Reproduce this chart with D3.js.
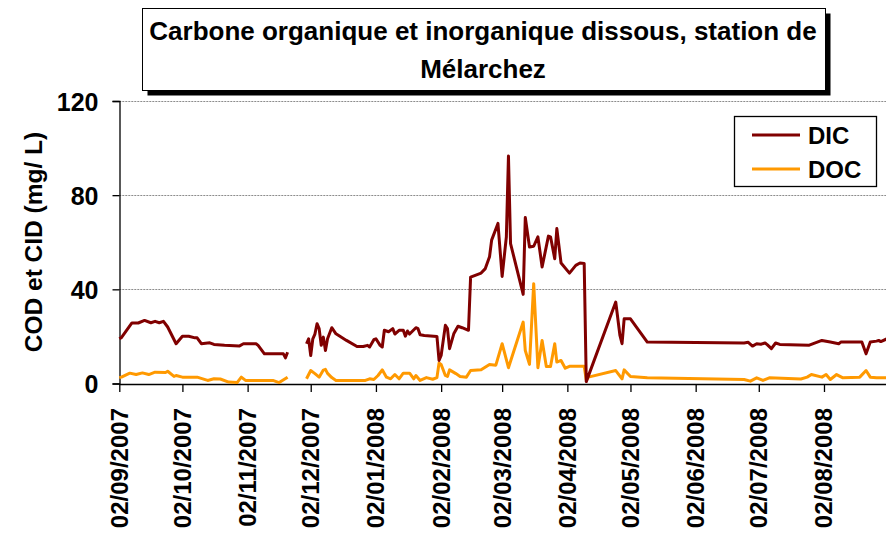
<!DOCTYPE html>
<html>
<head>
<meta charset="utf-8">
<script src="https://cdn.jsdelivr.net/npm/d3@7"></script>
<style>
  body { margin: 0; background: #fff; }
  text { font-family: "Liberation Sans", Arial, sans-serif; font-weight: bold; fill: #000; }
</style>
</head>
<body>
<div id="chart"></div>
<script>
// DIC (carbone inorganique dissous), mg/L
var dicDates = ["2007-09-02","2007-09-03","2007-09-08","2007-09-11","2007-09-14","2007-09-17","2007-09-19","2007-09-21","2007-09-23","2007-09-25",
  "2007-09-29","2007-10-02","2007-10-05","2007-10-08","2007-10-09","2007-10-11","2007-10-15","2007-10-17","2007-10-22","2007-10-29",
  "2007-10-31","2007-11-06","2007-11-07","2007-11-10","2007-11-17","2007-11-19","2007-11-20","2007-11-21","2007-11-25","2007-11-30",
  "2007-12-01","2007-12-02","2007-12-03","2007-12-04","2007-12-05","2007-12-06","2007-12-07","2007-12-08","2007-12-09","2007-12-10",
  "2007-12-12","2007-12-14","2007-12-19","2007-12-24","2007-12-27","2007-12-29","2007-12-30","2008-01-01","2008-01-02","2008-01-04",
  "2008-01-05","2008-01-06","2008-01-08","2008-01-10","2008-01-11","2008-01-13","2008-01-15","2008-01-16","2008-01-17","2008-01-18",
  "2008-01-21","2008-01-22","2008-01-23","2008-01-25","2008-01-31","2008-02-01","2008-02-02","2008-02-04","2008-02-05","2008-02-06",
  "2008-02-08","2008-02-10","2008-02-12","2008-02-15","2008-02-16","2008-02-21","2008-02-23","2008-02-25","2008-02-26","2008-02-29",
  "2008-03-02","2008-03-04","2008-03-05","2008-03-06","2008-03-12","2008-03-13","2008-03-15","2008-03-17","2008-03-19","2008-03-21",
  "2008-03-24","2008-03-25","2008-03-27","2008-03-28","2008-03-30","2008-04-03","2008-04-06","2008-04-08","2008-04-10","2008-04-11",
  "2008-04-25","2008-04-27","2008-04-28","2008-04-29","2008-05-02","2008-05-10","2008-06-25","2008-06-27","2008-06-29","2008-07-01",
  "2008-07-03","2008-07-05","2008-07-06","2008-07-08","2008-07-10","2008-07-12","2008-07-26","2008-08-01","2008-08-05","2008-08-09",
  "2008-08-10","2008-08-20","2008-08-22","2008-08-24","2008-08-27","2008-08-28","2008-08-29","2008-09-01"];
var dicValues = [19,19.5,25.7,25.7,26.8,25.8,26.4,25.8,26.4,24,
  16.9,20.1,20.1,19.4,19.4,16.9,17.3,16.6,16.2,15.9,
  16.9,16.9,16.2,12.6,12.6,12.6,10.9,13.3,null,16.9,
  19,11.9,19,21,25.4,23.3,16.2,19.7,14,19,
  23.7,21.1,18.3,15.7,15.7,16.2,15.5,18.6,19,16.2,
  15.5,22.6,22,23.3,21,22.6,22.6,20.1,22.3,21,
  23.7,23.3,20.7,20.4,20,9.8,11.9,24.7,23.3,14.8,
  21.1,24.3,23.7,22.6,45.2,46.9,48.8,53.8,60.9,68,
  45.5,62.3,96.6,59.4,37.9,70.5,58,58.3,62.3,49.5,
  62.6,62.3,53,65.8,51.2,46.9,50.2,51.2,51,0.8,
  34.6,20.4,16.9,27.5,27.5,17.6,17.2,17.5,15.9,16.9,
  16.7,17.2,16.5,14.8,17.2,16.6,16.3,18.3,17.6,16.9,
  17.6,17.6,12.6,17.6,18,18.3,17.8,19];

// DOC (carbone organique dissous), mg/L
var docDates = ["2007-09-02","2007-09-03","2007-09-07","2007-09-10","2007-09-13","2007-09-16","2007-09-19","2007-09-24","2007-09-25","2007-09-28",
  "2007-09-29","2007-10-02","2007-10-09","2007-10-14","2007-10-17","2007-10-20","2007-10-24","2007-10-28","2007-10-30","2007-11-01",
  "2007-11-14","2007-11-17","2007-11-21","2007-11-25","2007-11-30","2007-12-02","2007-12-04","2007-12-06","2007-12-08","2007-12-09",
  "2007-12-10","2007-12-12","2007-12-14","2007-12-28","2007-12-30","2008-01-01","2008-01-03","2008-01-05","2008-01-07","2008-01-09",
  "2008-01-11","2008-01-13","2008-01-15","2008-01-18","2008-01-20","2008-01-21","2008-01-23","2008-01-26","2008-01-29","2008-01-31",
  "2008-02-01","2008-02-02","2008-02-04","2008-02-05","2008-02-06","2008-02-09","2008-02-11","2008-02-14","2008-02-16","2008-02-21",
  "2008-02-25","2008-02-28","2008-03-02","2008-03-05","2008-03-12","2008-03-13","2008-03-15","2008-03-17","2008-03-19","2008-03-21",
  "2008-03-23","2008-03-25","2008-03-27","2008-03-28","2008-03-30","2008-04-01","2008-04-03","2008-04-10","2008-04-11","2008-04-12",
  "2008-04-25","2008-04-28","2008-04-29","2008-05-02","2008-05-10","2008-06-25","2008-06-28","2008-07-01","2008-07-04","2008-07-07",
  "2008-07-22","2008-07-25","2008-07-27","2008-08-01","2008-08-03","2008-08-05","2008-08-08","2008-08-11","2008-08-19","2008-08-22",
  "2008-08-24","2008-08-27","2008-09-01"];
var docValues = [2.5,2.7,4.4,3.8,4.5,3.8,4.8,4.7,5.2,3,
  3.4,2.7,2.7,1.3,2,1.9,0.6,0.4,2.7,1.3,
  1.3,0.4,2.7,null,2,5.5,4.2,2.7,5.7,6,
  4.3,2.5,1.3,1.3,2,1.7,3.4,5.8,2.7,2,
  3.8,2,4.4,4.4,2,3.4,1.3,2.5,1.8,2.5,
  8.7,8.1,3.4,3,5.8,4.2,3,2.7,5.5,5.8,
  8.1,7.8,16.9,6.7,26.1,14,8.1,42.4,6.7,18.3,
  7.2,7.2,16.9,9.1,9.8,6.5,7.3,7.3,1.5,2.7,
  5.5,2,5.8,3,2.4,1.7,1,2.4,1.3,2.4,
  1.9,2.7,3.8,2.7,3.8,1.7,3.8,2.4,2.7,5.5,
  2.7,2.4,2.4];

var tickLabels = ["02/09/2007","02/10/2007","02/11/2007","02/12/2007","02/01/2008","02/02/2008",
  "02/03/2008","02/04/2008","02/05/2008","02/06/2008","02/07/2008","02/08/2008"];
var yTicks = [0, 40, 80, 120];
var seriesNames = ["DIC", "DOC"];
var seriesColors = ["#800000", "#FF9900"];

function init() {

    var w = 886;
    var h = 534;

    var parseDay = d3.utcParse("%Y-%m-%d");
    var parseLabel = d3.utcParse("%d/%m/%Y");

    var xScale = d3.scaleUtc()
                   .domain([parseDay("2007-09-02"), parseDay("2008-09-02")])
                   .range([119.3, 889.2]);

    var yScale = d3.scaleLinear()
                   .domain([0, 120])
                   .range([383.5, 101]);

    var svg = d3.select("#chart")
                .append("svg")
                .attr("width", w)
                .attr("height", h);

    // title box with its drop shadow
    svg.append("rect")
       .attr("x", 147.5).attr("y", 13.5)
       .attr("width", 683).attr("height", 82)
       .attr("fill", "#000");
    svg.append("rect")
       .attr("x", 142.5).attr("y", 8.5)
       .attr("width", 683).attr("height", 82)
       .attr("fill", "#fff")
       .attr("stroke", "#000");
    svg.append("text")
       .attr("x", 483).attr("y", 40)
       .attr("text-anchor", "middle")
       .style("font-size", "26px")
       .text("Carbone organique et inorganique dissous, station de");
    svg.append("text")
       .attr("x", 483).attr("y", 78)
       .attr("text-anchor", "middle")
       .style("font-size", "26px")
       .text("Mélarchez");

    // horizontal grid lines
    svg.selectAll("line.grid")
       .data(yTicks.slice(1))
       .enter()
       .append("line")
       .attr("class", "grid")
       .attr("x1", 119.3)
       .attr("x2", 889)
       .attr("y1", function(d) { return Math.round(yScale(d)) + 0.5; })
       .attr("y2", function(d) { return Math.round(yScale(d)) + 0.5; })
       .attr("stroke", "#8c8c8c")
       .attr("stroke-dasharray", "2,1");

    // y axis
    var yAxis = d3.axisLeft(yScale)
                  .tickValues(yTicks)
                  .tickSize(7)
                  .tickPadding(14);
    var gy = svg.append("g")
                .attr("transform", "translate(119.5,0)")
                .call(yAxis);
    gy.select(".domain").attr("stroke", "#000").attr("stroke-width", 1.3);
    gy.selectAll(".tick line").attr("stroke", "#000").attr("stroke-width", 1.3);
    gy.selectAll(".tick text")
      .style("font-size", "25px")
      .style("font-family", "'Liberation Sans', Arial, sans-serif")
      .style("font-weight", "bold")
      .attr("fill", "#000")
      .attr("dy", "0.36em");

    // x axis, ticks on the 2nd of each month
    var xAxis = d3.axisBottom(xScale)
                  .tickValues(tickLabels.map(function(s) { return parseLabel(s); }))
                  .tickFormat(d3.utcFormat("%d/%m/%Y"))
                  .tickSize(8)
                  .tickSizeOuter(0);
    var gx = svg.append("g")
                .attr("transform", "translate(0,384)")
                .call(xAxis);
    gx.select(".domain").attr("stroke", "#000").attr("stroke-width", 1.3);
    gx.selectAll(".tick line").attr("stroke", "#000").attr("stroke-width", 1.3);
    gx.selectAll(".tick text")
      .style("font-size", "24px")
      .style("font-family", "'Liberation Sans', Arial, sans-serif")
      .style("font-weight", "bold")
      .attr("fill", "#000")
      .attr("text-anchor", "end")
      .attr("transform", "rotate(-90)")
      .attr("x", -24)
      .attr("y", 0)
      .attr("dy", "0.33em");

    // y axis title
    svg.append("text")
       .attr("transform", "translate(42,242) rotate(-90)")
       .attr("text-anchor", "middle")
       .style("font-size", "24.5px")
       .text("COD et CID (mg/ L)");

    // the two series
    var series = [
        { dates: dicDates, values: dicValues },
        { dates: docDates, values: docValues }
    ];

    var line = d3.line()
                 .defined(function(d) { return d.v !== null; })
                 .x(function(d) { return xScale(d.t); })
                 .y(function(d) { return yScale(d.v); });

    // draw DOC first so DIC sits on top
    [1, 0].forEach(function(k) {
        var pts = series[k].dates.map(function(s, i) {
            return { t: parseDay(s), v: series[k].values[i] };
        });
        svg.append("path")
           .datum(pts)
           .attr("d", line)
           .attr("fill", "none")
           .attr("stroke", seriesColors[k])
           .attr("stroke-width", 3)
           .attr("stroke-linejoin", "round");
    });

    // legend
    svg.append("rect")
       .attr("x", 734.5).attr("y", 116.5)
       .attr("width", 142).attr("height", 70)
       .attr("fill", "#fff")
       .attr("stroke", "#000")
       .attr("stroke-width", 1.3);

    var legend = svg.selectAll("g.legend")
                    .data(seriesNames)
                    .enter()
                    .append("g")
                    .attr("class", "legend")
                    .attr("transform", function(d, i) { return "translate(0," + (135 + i * 34) + ")"; });
    legend.append("line")
          .attr("x1", 752).attr("x2", 800)
          .attr("stroke", function(d, i) { return seriesColors[i]; })
          .attr("stroke-width", 3);
    legend.append("text")
          .attr("x", 808)
          .attr("dy", "0.36em")
          .style("font-size", "24px")
          .text(function(d) { return d; });
}

window.onload = init;
</script>
</body>
</html>
